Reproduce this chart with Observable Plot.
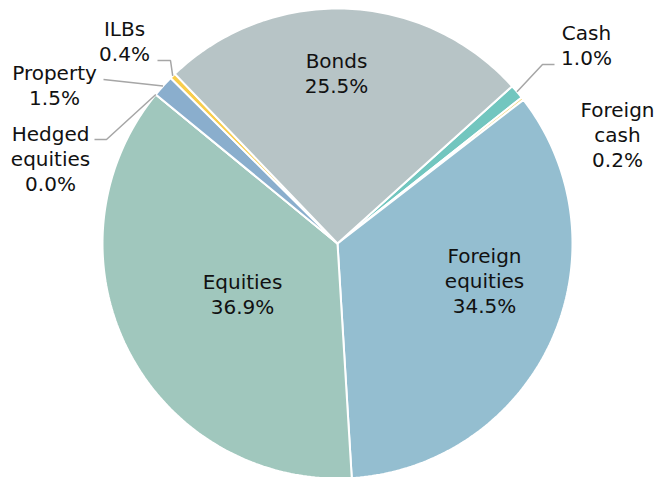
<!DOCTYPE html>
<html>
<head>
<meta charset="utf-8">
<script src="https://cdn.jsdelivr.net/npm/d3@7"></script>
<script src="https://cdn.jsdelivr.net/npm/@observablehq/plot@0.6"></script>
<style>
  html, body { margin: 0; padding: 0; background: #fff; }
  #chart svg { display: block; }
</style>
</head>
<body>
<div id="chart"></div>
<script>
// ---- data (clockwise from the top-right) ----
const categories = ["Cash", "Foreign cash", "Foreign equities", "Equities", "Hedged equities", "Property", "ILBs", "Bonds"];
const shares = [1.0, 0.2, 34.5, 36.9, 0.0, 1.5, 0.4, 25.5];
const labelTexts = ["Cash", "Foreign\ncash", "Foreign\nequities", "Equities", "Hedged\nequities", "Property", "ILBs", "Bonds"];
const sliceColors = ["#72c6bf", "#f2d57a", "#94bed0", "#a0c7bd", "#8aaecd", "#8aaecd", "#f9cd4b", "#b7c4c6"];

// ---- layout (not data) ----
const W = 659, H = 477;
const cx = 337, cy = 243, R = 235;
const startDeg = 48;
const fontSize = 20;
// label anchor: centre x and baseline of last line
const labelLayout = {
  "Cash": [586, 64],
  "Foreign cash": [617, 166],
  "Foreign equities": [484, 312],
  "Equities": [242, 313],
  "Hedged equities": [50, 190],
  "Property": [54, 104],
  "ILBs": [124, 60],
  "Bonds": [336, 92]
};
// leader line points on the label side (elbow points)
const leaderLayout = {
  "Cash": [[554, 64], [542, 64]],
  "Hedged equities": [[94, 139], [106, 139]],
  "Property": [[103, 79]],
  "ILBs": [[157, 60], [170, 60]]
};

const rad = d => d * Math.PI / 180;
const total = d3.sum(shares);
const pie = d3.pie().sort(null).value(d => d.value)
  .startAngle(rad(startDeg)).endAngle(rad(startDeg + 360));
const table = categories.map((c, i) => ({name: c, value: shares[i], label: labelTexts[i], color: sliceColors[i]}));
const arcs = pie(table);

const polar = (a, r) => [cx + r * Math.sin(a), cy - r * Math.cos(a)];

// slice polygons
const slicePts = [];
arcs.forEach(a => {
  const n = Math.max(2, Math.ceil((a.endAngle - a.startAngle) / rad(1)) + 1);
  slicePts.push({name: a.data.name, color: a.data.color, x: cx, y: cy});
  for (let k = 0; k <= n; k++) {
    const t = a.startAngle + (a.endAngle - a.startAngle) * k / n;
    const [x, y] = polar(t, R);
    slicePts.push({name: a.data.name, color: a.data.color, x, y});
  }
  slicePts.push({name: a.data.name, color: a.data.color, x: cx, y: cy});
});

// leader lines
const leaderPts = [];
arcs.forEach(a => {
  const pts = leaderLayout[a.data.name];
  if (!pts) return;
  pts.forEach(([x, y]) => leaderPts.push({name: a.data.name, x, y}));
  const [ex, ey] = polar((a.startAngle + a.endAngle) / 2, R);
  leaderPts.push({name: a.data.name, x: ex, y: ey});
});

// labels
const labels = arcs.map(a => ({
  text: a.data.label + "\n" + (a.data.value / total * 100).toFixed(1) + "%",
  x: labelLayout[a.data.name][0],
  y: labelLayout[a.data.name][1]
}));

const chart = Plot.plot({
  width: W,
  height: H,
  margin: 0,
  x: {domain: [0, W], range: [0, W], axis: null},
  y: {domain: [0, H], range: [0, H], axis: null},
  color: {type: "identity"},
  style: {background: "#fff"},
  marks: [
    Plot.line(slicePts, {x: "x", y: "y", z: "name", fill: "color", stroke: "#fff", strokeWidth: 2, strokeLinejoin: "miter", curve: "linear"}),
    Plot.line(leaderPts, {x: "x", y: "y", z: "name", stroke: "#a6a6a6", strokeWidth: 1.5, strokeLinejoin: "miter", strokeLinecap: "butt"}),
    Plot.text(labels, {x: "x", y: "y", text: "text", lineAnchor: "bottom", textAnchor: "middle",
      fontSize: fontSize, lineHeight: 1.25, fontFamily: "DejaVu Sans, Verdana, sans-serif", fill: "#111"})
  ]
});
document.getElementById("chart").appendChild(chart);
</script>
</body>
</html>
